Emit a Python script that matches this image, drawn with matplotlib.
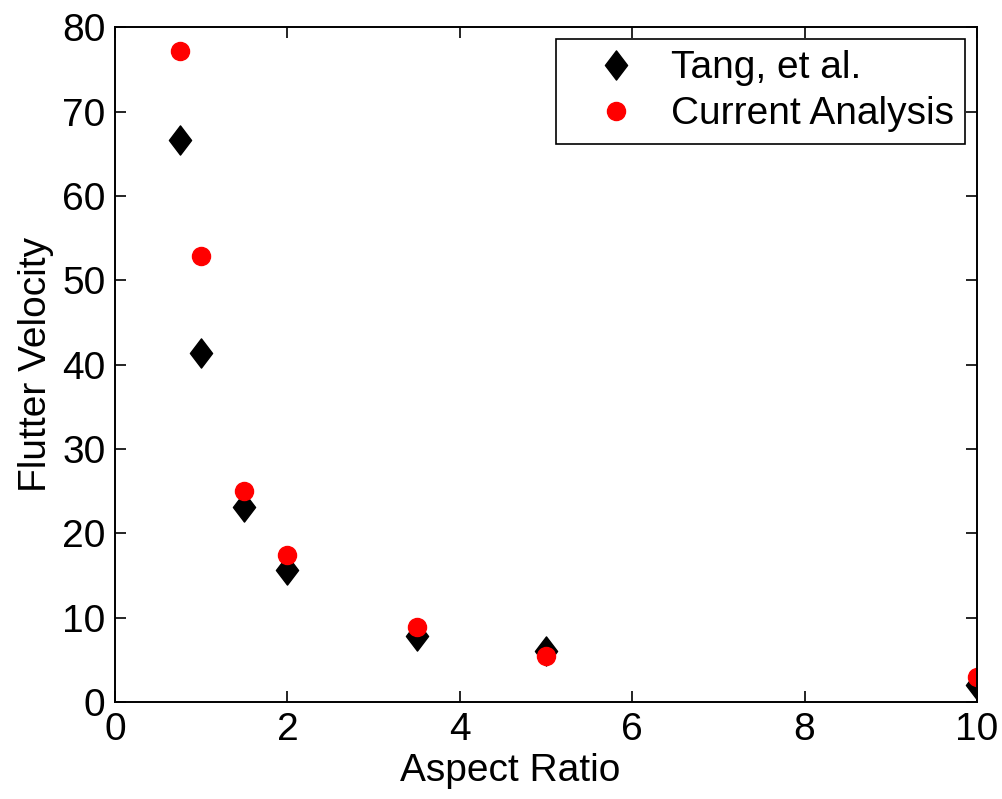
import numpy as np
import matplotlib
matplotlib.use("Agg")
from matplotlib import pyplot as plt
from matplotlib.path import Path

# data
aspect = [0.75, 1.0, 1.5, 2.0, 3.5, 5.0, 10.0]
tang = [66.6, 41.4, 23.1, 15.6, 7.8, 6.0, 2.0]
current = [77.2, 52.9, 25.0, 17.4, 8.9, 5.4, 3.0]

plt.rcParams['font.family'] = ['Liberation Sans', 'DejaVu Sans']

# matlab style diamond
diamond = Path([(0, 1), (0.76, 0), (0, -1), (-0.76, 0), (0, 1)],
               [Path.MOVETO, Path.LINETO, Path.LINETO, Path.LINETO, Path.CLOSEPOLY])

fig = plt.figure(figsize=(10.03, 7.99), dpi=100)
ax = fig.add_axes([0.1147, 0.1214, 0.974 - 0.1147, 0.966 - 0.1214])

ax.plot(aspect, tang, linestyle='none', marker=diamond, markersize=21,
        color='k', label='Tang, et al.')
ax.plot(aspect, current, linestyle='none', marker='o', markersize=13,
        color='red', markeredgecolor='red', label='Current Analysis')

ax.set_xlim(0, 10)
ax.set_ylim(0, 80)
ax.set_xticks(np.arange(0, 11, 2))
ax.set_yticks(np.arange(0, 81, 10))
ax.tick_params(direction='in', length=8, width=1.2, top=True, right=True,
               labelsize=28, pad=7)
for s in ax.spines.values():
    s.set_linewidth(1.4)

ax.set_xlabel('Aspect Ratio', fontsize=28, labelpad=5)
ax.xaxis.set_label_coords(0.458, -0.075)
ax.set_ylabel('Flutter Velocity', fontsize=28, labelpad=6)

leg = ax.legend(loc='upper right', fontsize=28, fancybox=False, framealpha=1,
                edgecolor='k', borderaxespad=0.3, handletextpad=0.15,
                labelspacing=0.25, borderpad=0.3, handlelength=2.5)
leg.get_frame().set_linewidth(1.2)

fig.savefig('out.png', dpi=100)
